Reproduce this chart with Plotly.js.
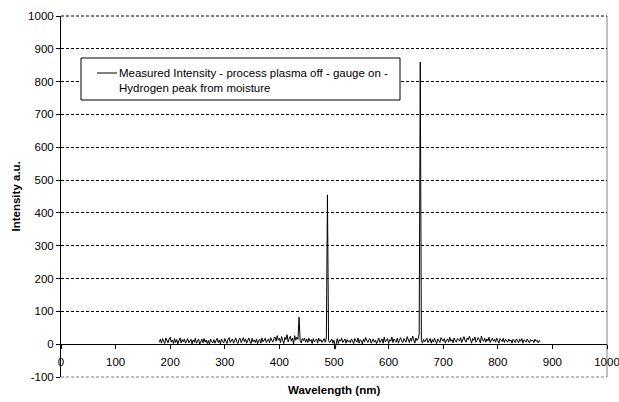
<!DOCTYPE html>
<html>
<head>
<meta charset="utf-8">
<script src="https://cdn.plot.ly/plotly-3.0.1.min.js"></script>
<style>html,body{margin:0;padding:0;background:#fff;}#chart{width:619px;height:402px;}</style>
</head>
<body>
<div id="chart"></div>
<script>
// Spectrum sampled every 2 nm from 180 nm to 878 nm
const wavelengthStart = 180;
const wavelengthStep = 2;
const intensity = [
  6, 15, 3, 17, 8, 2, 19, 10, 4, 16, 21, 6, 13, 2, 17, 5, 14, 1, 11, 19, 4, 14, 7, 16, 3,
  11, 17, 4, 8, 15, 1, 13, 6, 18, 3, 10, 16, 0, 8, 15, 4, 17, 6, 13, 2, 11, 0, 16, 7, 4,
  14, 3, 11, 18, 5, 13, 1, 16, 8, 4, 17, 10, 2, 15, 20, 5, 13, 16, 3, 11, 19, 7, 2, 15, 18,
  5, 13, 20, 7, 16, 3, 14, 19, 9, 2, 18, 7, 13, 5, 16, 1, 11, 15, 3, 19, 7, 13, 18, 5, 11,
  16, 4, 20, 12, 6, 17, 22, 9, 26, 12, 18, 5, 23, 11, 2, 21, 14, 29, 7, 17, 24, 9, 19, 0, 26,
  12, 21, 15, 82, 10, 4, 17, 11, 19, 6, 16, 5, 18, 9, 14, 2, 17, 7, 12, 16, 3, 18, 9, 14, 5,
  11, 17, 6, 19, 455, 12, 5, 10, 16, 3, 12, -15, 7, 17, 2, 14, 9, 18, 5, 12, 16, 3, 14, 7, 11,
  5, 16, 10, 2, 17, 11, 6, 19, 3, 14, 10, 1, 16, 7, 20, 11, 5, 14, 17, 3, 10, 16, 6, 12, 2,
  14, 19, 5, 10, 16, 3, 21, 7, 12, 17, 2, 14, 9, 22, 5, 16, 11, 6, 19, 3, 14, 20, 9, 5, 17,
  11, 6, 23, 15, 5, 18, 9, 25, 12, 3, 19, 11, 16, 30, 860, 12, 3, 15, 7, 12, 18, 5, 10, 17, 3,
  14, 6, 18, 10, 2, 16, 11, 5, 20, 13, 9, 17, 3, 12, 16, 6, 21, 9, 14, 4, 19, 11, 6, 17, 15,
  9, 20, 5, 13, 23, 11, 6, 19, 14, 24, 9, 3, 17, 12, 22, 6, 11, 20, 14, 4, 25, 12, 9, 18, 6,
  16, 10, 21, 5, 13, 18, 9, 15, 6, 19, 11, 3, 17, 12, 8, 18, 5, 15, 10, 6, 16, 9, 13, 3, 15,
  11, 5, 16, 12, 4, 15, 9, 17, 3, 13, 11, 6, 16, 9, 4, 14, 10, 12, 5, 15, 9, 12, 4, 11, 9
];
const seriesName = "Measured Intensity - process plasma off - gauge on -<br>Hydrogen peak from moisture";
const xTitle = "Wavelength (nm)";
const yTitle = "Intensity a.u.";
const xTickVals = [0, 100, 200, 300, 400, 500, 600, 700, 800, 900, 1000];
const yTickVals = [-100, 0, 100, 200, 300, 400, 500, 600, 700, 800, 900, 1000];

const wavelength = intensity.map((_, i) => wavelengthStart + i * wavelengthStep);

const FONT = "Liberation Sans, Arial, sans-serif";
const FS = 11.5;

const trace = {
  x: wavelength, y: intensity, type: "scatter", mode: "lines",
  line: {color: "#000", width: 1}, showlegend: false, hoverinfo: "skip"
};

const layout = {
  width: 619, height: 402,
  margin: {l: 61, r: 12, t: 16, b: 25},
  paper_bgcolor: "#fff", plot_bgcolor: "#fff",
  font: {family: FONT, size: FS, color: "#000"},
  showlegend: false,
  xaxis: {
    range: [0, 1000], tickvals: xTickVals, ticktext: xTickVals.map(String),
    showgrid: false, zeroline: false, showline: true, linecolor: "#000", linewidth: 1,
    ticks: "outside", ticklen: 4, tickcolor: "#000", tickwidth: 1,
    ticklabelstandoff: 3, ticklabeloverflow: "allow",
    anchor: "free", position: 100 / 1100,
    tickfont: {family: FONT, size: FS, color: "#000"}
  },
  yaxis: {
    range: [-100, 1000], tickvals: yTickVals, ticktext: yTickVals.map(String),
    showgrid: true, gridcolor: "#000", gridwidth: 1, griddash: "3px,2px",
    zeroline: false, showline: true, linecolor: "#000", linewidth: 1,
    ticks: "outside", ticklen: 4, tickcolor: "#000", tickwidth: 1,
    ticklabeloverflow: "allow",
    tickfont: {family: FONT, size: FS, color: "#000"}
  },
  shapes: [
    {type: "line", xref: "paper", yref: "paper", x0: 1, x1: 1, y0: 0, y1: 1,
     line: {color: "#808080", width: 1}, layer: "below"},
    {type: "line", xref: "paper", yref: "paper", x0: 0, x1: 1, y0: 1, y1: 1,
     line: {color: "#000", width: 1, dash: "3px,2px"}, layer: "below"},
    {type: "line", xref: "paper", yref: "paper", x0: 0, x1: 1, y0: 0, y1: 0,
     line: {color: "#808080", width: 1, dash: "3px,2px"}, layer: "below"},
    {type: "rect", xref: "paper", yref: "paper",
     x0: 20 / 546, x1: 339 / 546, y0: (377 - 100) / 361, y1: (377 - 58) / 361,
     line: {color: "#000", width: 1}, fillcolor: "#fff", layer: "above"},
    {type: "line", xref: "paper", yref: "paper",
     x0: 36 / 546, x1: 56 / 546, y0: (377 - 73) / 361, y1: (377 - 73) / 361,
     line: {color: "#000", width: 1}, layer: "above"}
  ],
  annotations: [
    {text: seriesName, xref: "paper", yref: "paper", x: 56 / 546, y: (377 - 80) / 361,
     xanchor: "left", yanchor: "middle", align: "left", showarrow: false,
     font: {family: FONT, size: FS, color: "#000"}},
    {text: "<b>" + xTitle + "</b>", xref: "paper", yref: "paper", x: 0.5, y: (377 - 390) / 361,
     xanchor: "center", yanchor: "middle", showarrow: false,
     font: {family: FONT, size: FS, color: "#000"}},
    {text: "<b>" + yTitle + "</b>", xref: "paper", yref: "paper", x: (15 - 61) / 546, y: 0.5,
     xanchor: "center", yanchor: "middle", textangle: -90, showarrow: false,
     font: {family: FONT, size: FS, color: "#000"}}
  ]
};

Plotly.newPlot("chart", [trace], layout, {displayModeBar: false, staticPlot: true});
</script>
</body>
</html>
